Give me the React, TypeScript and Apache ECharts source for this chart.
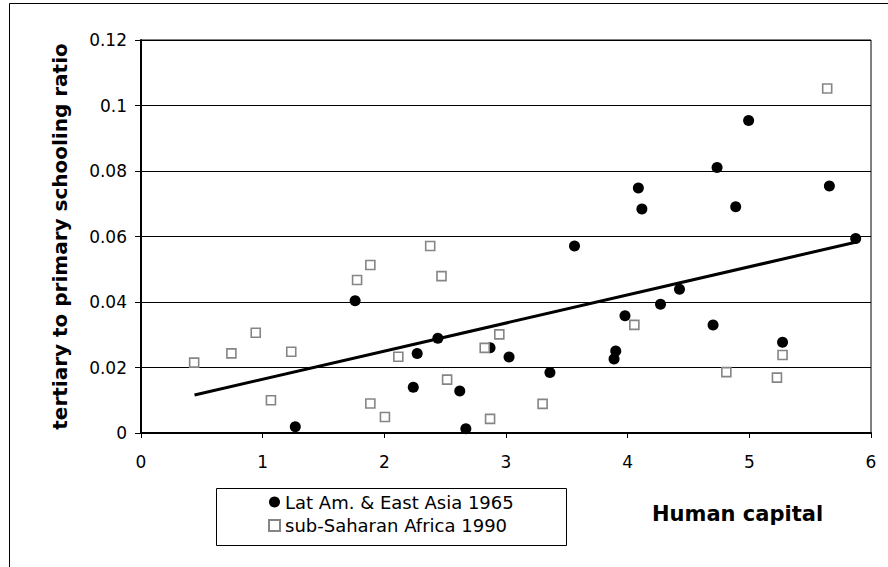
import React, { useEffect, useRef } from "react";
import * as echarts from "echarts";

// Lat Am. & East Asia 1965 (filled circles)
const latAmX = [4.994, 4.735, 4.088, 4.117, 4.888, 5.658, 5.874, 1.760, 1.268, 3.563, 4.426, 4.270, 3.978, 4.702, 2.440, 2.869, 2.270, 3.025, 3.902, 3.888, 5.273, 3.361, 2.238, 2.620, 2.670];
const latAmY = [0.0954, 0.0811, 0.0748, 0.0684, 0.0691, 0.0754, 0.0594, 0.0404, 0.0019, 0.0571, 0.0439, 0.0393, 0.0358, 0.0330, 0.0289, 0.0260, 0.0243, 0.0232, 0.0250, 0.0226, 0.0277, 0.0185, 0.0140, 0.0128, 0.0013];

// sub-Saharan Africa 1990 (hollow squares)
const ssaX = [5.640, 1.885, 1.776, 0.943, 0.743, 0.437, 1.235, 1.068, 1.885, 2.005, 2.115, 2.377, 2.470, 4.055, 2.945, 2.825, 5.273, 4.811, 5.227, 2.516, 3.301, 2.869];
const ssaY = [0.1052, 0.0513, 0.0467, 0.0306, 0.0243, 0.0215, 0.0248, 0.0100, 0.0090, 0.0049, 0.0233, 0.0571, 0.0479, 0.0330, 0.0301, 0.0260, 0.0238, 0.0186, 0.0169, 0.0163, 0.0089, 0.0043];

// Linear trend line end points
const trendX = [0.44, 5.89];
const trendY = [0.0116, 0.0584];

const seriesNames = ["Lat Am. & East Asia 1965", "sub-Saharan Africa 1990"];
const xTitle = "Human capital";
const yTitle = "tertiary to primary schooling ratio";

const FONT = "DejaVu Sans";

export default function App() {
  const ref = useRef<HTMLDivElement>(null);

  useEffect(() => {
    document.body.style.margin = "0";
    if (!ref.current) return;
    const chart = echarts.init(ref.current, undefined, { renderer: "svg" });
    const zip = (xs: number[], ys: number[]) => xs.map((x, i) => [x, ys[i]]);

    chart.setOption({
      animation: false,
      backgroundColor: "#ffffff",
      grid: {
        left: 141,
        right: 17,
        top: 40,
        bottom: 134,
        show: true,
        borderColor: "#000",
        borderWidth: 1,
        backgroundColor: "#fff",
      },
      xAxis: {
        type: "value",
        min: 0,
        max: 6,
        interval: 1,
        axisLine: { show: true, onZero: false, lineStyle: { color: "#000", width: 2 } },
        axisTick: { show: true, inside: false, length: 5, lineStyle: { color: "#000", width: 1 } },
        axisLabel: { color: "#000", fontFamily: FONT, fontSize: 17, margin: 20 },
        splitLine: { show: false },
      },
      yAxis: {
        type: "value",
        min: 0,
        max: 0.12,
        interval: 0.02,
        name: yTitle,
        nameLocation: "middle",
        nameGap: 71,
        nameRotate: 90,
        nameTextStyle: { color: "#000", fontFamily: FONT, fontSize: 20, fontWeight: "bold" },
        axisLine: { show: true, onZero: false, lineStyle: { color: "#000", width: 2 } },
        axisTick: { show: true, inside: false, length: 6, lineStyle: { color: "#000", width: 1 } },
        axisLabel: { color: "#000", fontFamily: FONT, fontSize: 17, margin: 14 },
        splitLine: { show: true, lineStyle: { color: "#000", width: 1 } },
      },
      legend: {
        data: [
          { name: seriesNames[0], icon: "circle" },
          { name: seriesNames[1], icon: "rect" },
        ],
        orient: "vertical",
        left: 268,
        top: 492,
        padding: 0,
        itemWidth: 11,
        itemHeight: 11,
        itemGap: 3.5,
        textStyle: { color: "#000", fontFamily: FONT, fontSize: 18, lineHeight: 20 },
      },
      graphic: [
        {
          type: "rect",
          shape: { x: 9.5, y: 3.5, width: 900, height: 600 },
          style: { fill: "none", stroke: "#000", lineWidth: 1 },
          silent: true,
          z: -10,
        },
        {
          type: "rect",
          shape: { x: 216.5, y: 488.5, width: 350, height: 57 },
          style: { fill: "none", stroke: "#000", lineWidth: 1 },
          silent: true,
        },
        {
          type: "text",
          x: 652,
          y: 514,
          style: {
            text: xTitle,
            fill: "#000",
            font: `bold 21px "${FONT}"`,
            textAlign: "left",
            textVerticalAlign: "middle",
          },
          silent: true,
        },
      ],
      series: [
        {
          name: "trend",
          type: "line",
          data: zip(trendX, trendY),
          symbol: "none",
          lineStyle: { color: "#000", width: 3 },
          z: 3,
        },
        {
          name: seriesNames[0],
          type: "scatter",
          data: zip(latAmX, latAmY),
          symbol: "circle",
          symbolSize: 11,
          itemStyle: { color: "#000", opacity: 1 },
          z: 4,
        },
        {
          name: seriesNames[1],
          type: "scatter",
          data: zip(ssaX, ssaY),
          symbol: "rect",
          symbolSize: 9,
          itemStyle: { color: "#fff", borderColor: "#858585", borderWidth: 1.6, opacity: 1 },
          z: 4,
        },
      ],
    });

    return () => chart.dispose();
  }, []);

  return <div ref={ref} style={{ width: 888, height: 567 }} />;
}
